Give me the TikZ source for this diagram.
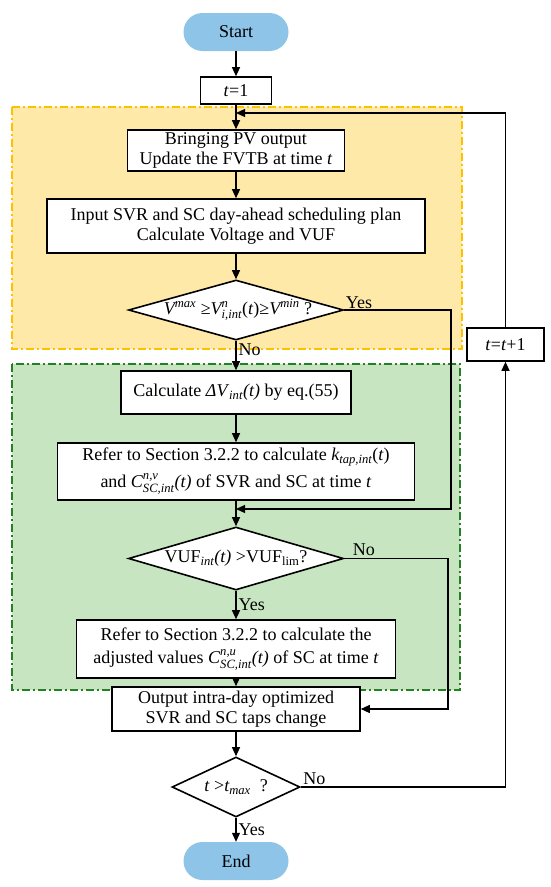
\documentclass[tikz,border=0pt]{standalone}
\usepackage{amsmath}
\usepackage{fontspec}
\setmainfont{Liberation Serif}
\usetikzlibrary{arrows.meta,shapes.geometric}
\definecolor{paleyellow}{RGB}{255,233,168}
\definecolor{goldline}{RGB}{255,192,0}
\definecolor{palegreen}{RGB}{199,229,192}
\definecolor{forestline}{RGB}{34,130,34}
\definecolor{pillblue}{RGB}{142,196,232}
\begin{document}
\begin{tikzpicture}[x=1pt,y=-1pt,
    font=\fontsize{18}{20}\selectfont,
    >={Triangle[length=9pt,width=8pt]},
    box/.style={draw,line width=1.6pt,fill=white,align=center,inner sep=0pt},
    decision/.style={draw,diamond,aspect=1,line width=1.6pt,fill=white,inner sep=0pt},
    terminal/.style={fill=pillblue,rounded corners=19pt,minimum width=105pt,minimum height=38pt},
    region/.style={line width=2.6pt,dash pattern=on 8pt off 3pt on 2pt off 3pt},
    flow/.style={line width=1.2pt,->}]
    \useasboundingbox (0,0) rectangle (550,887);
    \draw[region,draw=goldline,fill=paleyellow] (12,107) rectangle (462,349);
    \draw[region,draw=forestline,fill=palegreen] (12,364) rectangle (460,690);

    \node[terminal] (start) at (236,32) {Start};
    \node[box,minimum width=71pt,minimum height=27pt] (init) at (236,90.5) {\textit{t}=1};
    \node[box,minimum width=217pt,minimum height=41pt] (pv) at (236,150.5) {Bringing PV output\\Update the FVTB at time \textit{t}};
    \node[box,minimum width=378pt,minimum height=54pt] (plan) at (236,226) {Input SVR and SC day-ahead scheduling plan\\Calculate Voltage and VUF};
    \node[decision,minimum width=215pt,minimum height=60pt] (vcheck) at (236,310) {};
    \node (vtext) at (238,310) {$\textit{V}^{\textit{max}}$ ≥$\textit{V}^{\textit{n}}_{\textit{i,int}}$(\textit{t})≥$\textit{V}^{\textit{min}}$ ?};
    \node[box,minimum width=230pt,minimum height=43pt] (dv) at (236,392.5) {Calculate \textit{ΔV}$_{\textit{int}}$\textit{(t)} by eq.(55)};
    \node[box,minimum width=357pt,minimum height=57pt] (sect) at (236,471.5) {Refer to Section 3.2.2 to calculate $\textit{k}_{\textit{tap,int}}$(\textit{t})\\[7pt]and $\textit{C}^{\textit{n,v}}_{\textit{SC,int}}$\textit{(t)} of SVR and SC at time \textit{t}};
    \node[decision,minimum width=215pt,minimum height=63pt] (vuf) at (236,558.5) {};
    \node (vuftext) at (236,558.5) {VUF$_{\textit{int}}$\textit{(t)} >VUF$_{\textrm{lim}}$?};
    \node[box,minimum width=319pt,minimum height=58pt] (adj) at (236,649) {Refer to Section 3.2.2 to calculate the\\[3pt]adjusted values $\textit{C}^{\textit{n,u}}_{\textit{SC,int}}$\textit{(t)} of SC at time \textit{t}};
    \node[box,minimum width=248pt,minimum height=44pt] (out) at (236,709) {Output intra-day optimized\\SVR and SC taps change};
    \node[decision,minimum width=128pt,minimum height=60pt] (tcheck) at (236,787) {};
    \node (ttext) at (236,787) {\textit{t} >$\textit{t}_{\textit{max}}$\ \ ?};
    \node[terminal] (end) at (236,861) {End};
    \node[box,minimum width=77pt,minimum height=33pt] (incr) at (505.5,344.5) {\textit{t}=\textit{t}+1};

    \coordinate (loopin) at (236,113);
    \coordinate (yesin) at (236,509);
    \coordinate (yesside) at (451,0);
    \coordinate (noside) at (448,0);

    \draw[flow] (start) -- (init);
    \draw[flow] (init) -- (pv);
    \draw[flow] (pv) -- (plan);
    \draw[flow] (plan) -- (vcheck);
    \draw[flow] (vcheck) -- node[right,pos=0.3,inner sep=2pt]{No} (dv);
    \draw[flow] (dv) -- (sect);
    \draw[flow] (sect) -- (vuf);
    \draw[flow] (vuf) -- node[right,inner sep=2pt]{Yes} (adj);
    \draw[flow] (adj) -- (out);
    \draw[flow] (out) -- (tcheck);
    \draw[flow] (tcheck) -- node[right,inner sep=2pt]{Yes} (end);
    \draw[flow] (vcheck.east) node[above right,inner sep=1pt]{Yes} -- (vcheck.east -| yesside) |- (yesin);
    \draw[flow] (vuf.east) node[above right,xshift=6pt,inner sep=2pt]{No} -- (vuf.east -| noside) |- (out.east);
    \draw[flow] (tcheck.east) node[above right,inner sep=2pt]{No} -| (incr.south);
    \draw[flow] (incr.north) |- (loopin);
\end{tikzpicture}
\end{document}
